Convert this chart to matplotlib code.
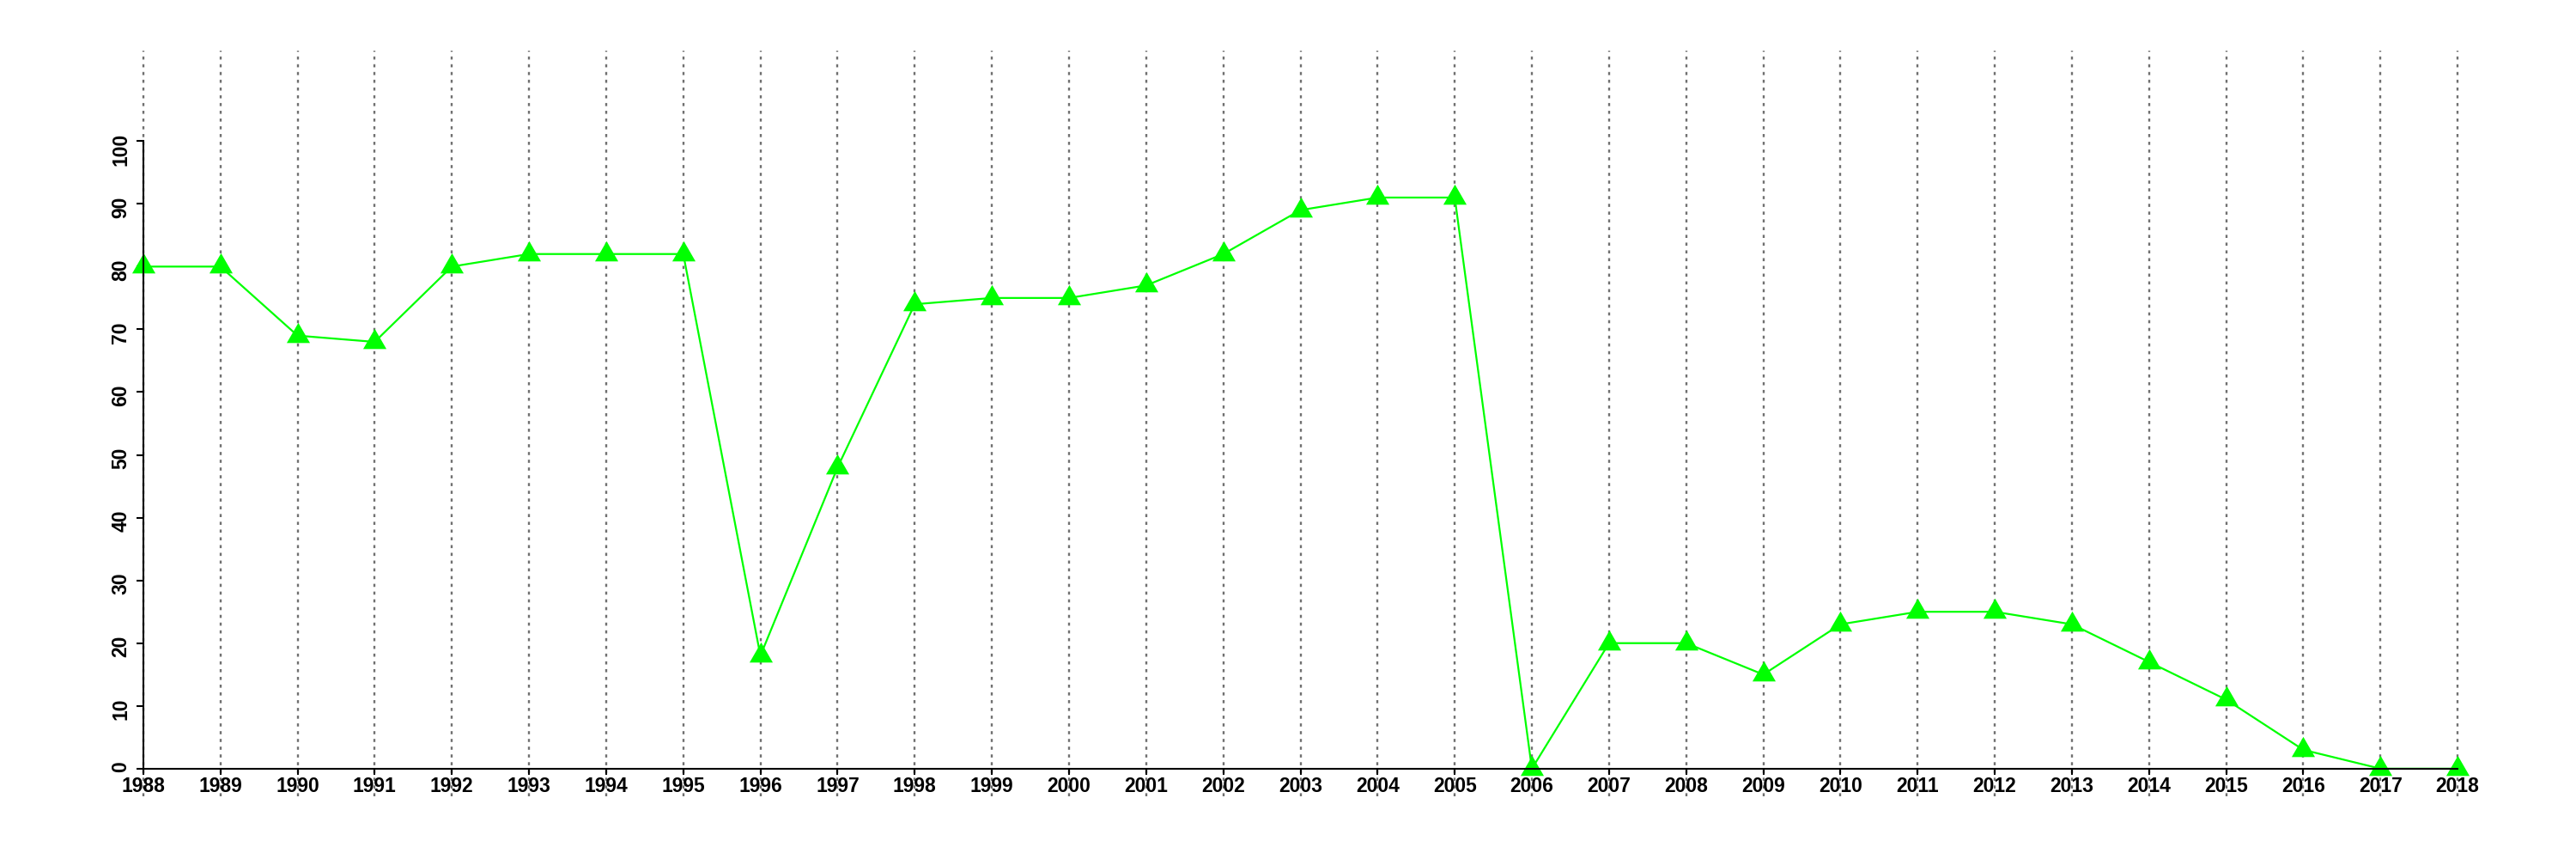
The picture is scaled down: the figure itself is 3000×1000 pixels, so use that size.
import matplotlib
matplotlib.use("Agg")
import matplotlib.pyplot as plt
import numpy as np

# ============================================================
# Data
# ============================================================

years = list(range(1988, 2019))
values = [80, 80, 69, 68, 80, 82, 82, 82, 18, 48,
          74, 75, 75, 77, 82, 89, 91, 91, 0, 20,
          20, 15, 23, 25, 25, 23, 17, 11, 3, 0, 0]
y_ticks = list(range(0, 101, 10))

# ============================================================
# Style
# ============================================================

plt.rcParams["font.family"] = ["Liberation Sans", "DejaVu Sans"]
plt.rcParams["font.weight"] = "bold"
plt.rcParams["lines.scale_dashes"] = False

# triangle centred on its centroid (like R pch 17)
tri = [(0, 1.5551), (1.3468, -0.7776), (-1.3468, -0.7776), (0, 1.5551)]

fig = plt.figure(figsize=(30, 10), dpi=100)
ax = fig.add_axes([59 / 3000, 73 / 1000, 2911 / 3000, 868 / 1000])

ax.plot(years, values, color="#00FF00", linewidth=1.6,
        marker=tri, markersize=22.5, markeredgewidth=0,
        markerfacecolor="#00FF00", zorder=2)

ax.set_xlim(1988 - 1.2, 2018 + 1.2)
ax.set_ylim(-4.4, 114.4)

ax.tick_params(axis="x", length=5, width=1.5, pad=1.5, labelsize=16.5)
ax.tick_params(axis="y", length=6, width=1.5, pad=4.5, labelsize=16.5,
               labelrotation=90)

ax.set_xticks(years)
ax.set_xticklabels([str(y) for y in years])
ax.set_yticks(y_ticks)
ax.set_yticklabels([str(v) for v in y_ticks])
for lab in ax.get_yticklabels():
    lab.set_rotation(90)
    lab.set_verticalalignment("center")

ax.xaxis.grid(True, color="#707070", linewidth=1.7,
              linestyle=(0, (2.6, 3.9)), zorder=1)
ax.set_axisbelow(True)

for side in ["top", "right"]:
    ax.spines[side].set_visible(False)
ax.spines["left"].set_position(("data", 1988))
ax.spines["bottom"].set_position(("data", 0))
ax.spines["left"].set_bounds(0, 100)
ax.spines["bottom"].set_bounds(1988, 2018)
for side in ["left", "bottom"]:
    ax.spines[side].set_linewidth(1.5)
    ax.spines[side].set_zorder(3)

fig.savefig("out.png", dpi=100)
